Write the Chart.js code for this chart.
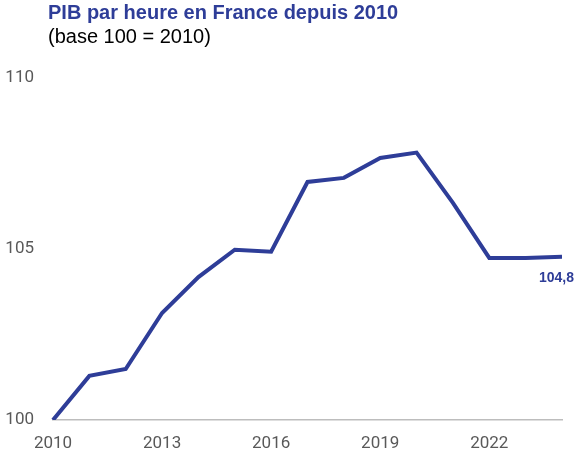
<!DOCTYPE html>
<html>
<head>
<meta charset="utf-8">
<script src="https://cdn.jsdelivr.net/npm/chart.js@4/dist/chart.umd.min.js"></script>
<style>
  body { margin: 0; background: #fff; }
  #wrap { position: relative; width: 580px; height: 456px; }
  #title { position: absolute; left: 48px; top: 0; font-family: "Liberation Sans", Arial, sans-serif; font-size: 20px; line-height: 24px; }
  #title b { color: #2E3D98; }
  #title span { color: #000; }
  canvas { position: absolute; left: 0; top: 0; }
</style>
</head>
<body>
<div id="wrap">
  <canvas id="chart" width="580" height="456"></canvas>
  <div id="title"><b>PIB par heure en France depuis 2010</b><br><span>(base 100 = 2010)</span></div>
</div>
<script>
// years and index values (base 100 = 2010)
const years = ['2010', '2011', '2012', '2013', '2014', '2015', '2016', '2017', '2018', '2019', '2020', '2021', '2022', '2023', '2024'];
const pibHeure = [100, 101.29, 101.49, 103.13, 104.18, 104.98, 104.92, 106.96, 107.08, 107.66, 107.82, 106.35, 104.74, 104.74, 104.77];
const shownYears = ['2010', '2013', '2016', '2019', '2022'];
const lastLabel = '104,8';

const blue = '#2E3D98';
const tickFont = { family: 'Roboto, "Noto Sans", sans-serif', size: 17 };

// value label under the last point
const lastValuePlugin = {
    id: 'lastValue',
    afterDatasetsDraw(chart) {
        const pts = chart.getDatasetMeta(0).data;
        const p = pts[pts.length - 1];
        const ctx = chart.ctx;
        ctx.save();
        ctx.font = 'bold 14px "Liberation Sans", Arial, sans-serif';
        ctx.fillStyle = blue;
        ctx.textAlign = 'right';
        ctx.textBaseline = 'middle';
        ctx.fillText(lastLabel, p.x + 12, p.y + 21);
        ctx.restore();
    }
};

new Chart(document.getElementById('chart'), {
    type: 'line',
    data: {
        labels: years,
        datasets: [{
            data: pibHeure,
            borderColor: blue,
            borderWidth: 4,
            pointRadius: 0,
            tension: 0,
            fill: false
        }]
    },
    options: {
        responsive: false,
        animation: false,
        layout: { padding: { top: 78, right: 18, left: 0, bottom: 0 } },
        plugins: {
            legend: { display: false },
            tooltip: { enabled: false }
        },
        scales: {
            x: {
                grid: { display: false },
                border: { display: true, color: '#BDBDBD', width: 1.5 },
                afterFit(s) { s.height = 36; },
                ticks: {
                    autoSkip: false,
                    maxRotation: 0,
                    padding: 6,
                    color: '#595959',
                    font: tickFont,
                    callback(v, i) {
                        const y = years[i];
                        return shownYears.includes(y) ? y : '';
                    }
                }
            },
            y: {
                min: 100,
                max: 110,
                grid: { display: false },
                border: { display: false },
                afterFit(s) { s.width = 53; },
                ticks: {
                    stepSize: 5,
                    padding: 11,
                    color: '#595959',
                    font: tickFont
                }
            }
        }
    },
    plugins: [lastValuePlugin]
});
</script>
</body>
</html>
